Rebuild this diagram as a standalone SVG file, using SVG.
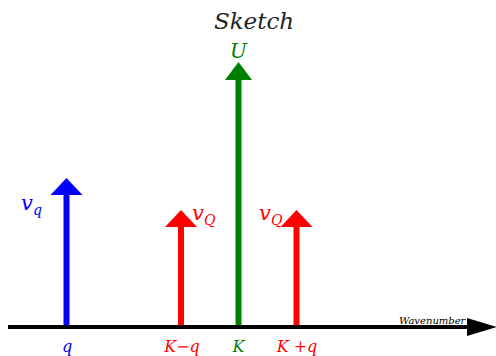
<svg xmlns="http://www.w3.org/2000/svg" width="496" height="356" viewBox="0 0 496 356">
<style>
text{font-family:'DejaVu Serif',serif;font-style:italic}
.blue{fill:#0000ff}.red{fill:#ff0000}.green{fill:#008000}
</style>
<rect width="496" height="356" fill="#fff"/>
<text x="254" y="29" font-size="23" fill="#222" text-anchor="middle">Sketch</text>
<g id="connectors">
<g id="arrow-q" class="blue"><rect x="63.5" y="192" width="6" height="135"/><polygon points="50.5,195 66.5,178 82.5,195"/></g>
<g id="arrow-Kmq" class="red"><rect x="178" y="225" width="6" height="102"/><polygon points="165,227 181,210 197,227"/></g>
<g id="arrow-K" class="green"><rect x="235.5" y="78" width="6" height="249"/><polygon points="225,80 238.5,62 252,80"/></g>
<g id="arrow-Kpq" class="red"><rect x="293.5" y="225" width="6" height="102"/><polygon points="280.5,227 296.5,210 312.5,227"/></g>
<g id="axis"><line x1="8" y1="327" x2="470" y2="327" stroke="#000" stroke-width="4"/><polygon points="467,318 497,327 467,336" fill="#000"/></g>
</g>
<g id="labels">
<text class="green" x="238.5" y="58" font-size="20" text-anchor="middle">U</text>
<text class="blue" x="21" y="210" font-size="21">v<tspan font-size="14" dy="5">q</tspan></text>
<text class="red" x="192" y="220" font-size="21">v<tspan font-size="14" dy="5">Q</tspan></text>
<text class="red" x="259" y="220" font-size="21">v<tspan font-size="14" dy="5">Q</tspan></text>
<text class="blue" x="67" y="352" font-size="16" text-anchor="middle">q</text>
<text class="red" x="182" y="352" font-size="16" text-anchor="middle">K−q</text>
<text class="green" x="238.5" y="352" font-size="16" text-anchor="middle">K</text>
<text class="red" x="297" y="352" font-size="16" text-anchor="middle">K +q</text>
<text x="399" y="324" font-size="10" fill="#000">Wavenumber</text>
</g>
</svg>
